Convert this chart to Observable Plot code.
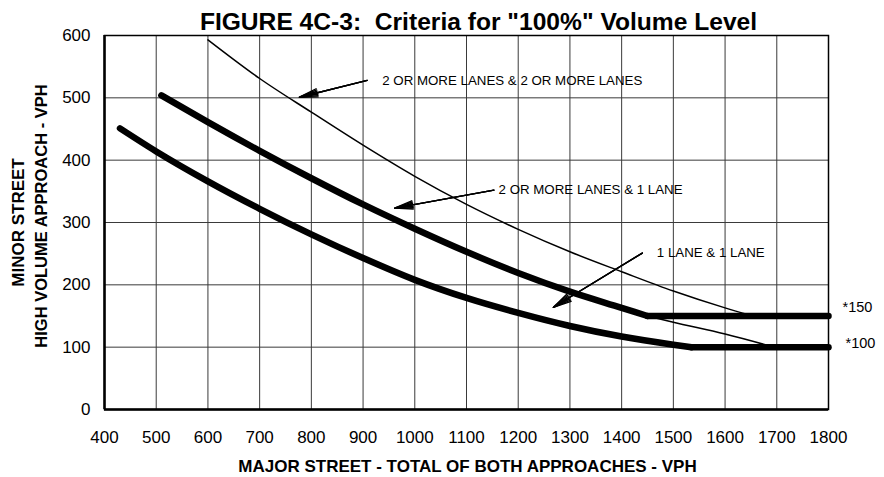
<!DOCTYPE html>
<html>
<head>
<meta charset="utf-8">
<script src="https://cdn.jsdelivr.net/npm/d3@7"></script>
<script src="https://cdn.jsdelivr.net/npm/@observablehq/plot@0.6"></script>
<style>
  html, body { margin: 0; padding: 0; background: #fff; }
</style>
</head>
<body>
<div id="chart"></div>
<script>
// ---- Data ----
const xTicks = [400, 500, 600, 700, 800, 900, 1000, 1100, 1200, 1300, 1400, 1500, 1600, 1700, 1800];
const yTicks = [0, 100, 200, 300, 400, 500, 600];

const title = "FIGURE 4C-3:  Criteria for \"100%\" Volume Level";
const xLabel = "MAJOR STREET - TOTAL OF BOTH APPROACHES - VPH";
const yLabel1 = "MINOR STREET";
const yLabel2 = "HIGH VOLUME APPROACH - VPH";

// 1 LANE & 1 LANE (thick)
const oneOneX = [430, 500, 600, 700, 800, 900, 1000, 1100, 1200, 1300, 1400, 1500, 1535];
const oneOneY = [451, 414, 366, 322, 281, 243, 208, 179, 155, 134, 117, 104, 100];
// floor at 100
const floor100X = [1535, 1800];
const floor100Y = [100, 100];

// 2 OR MORE LANES & 1 LANE (thick)
const twoOneX = [510, 600, 700, 800, 900, 1000, 1100, 1200, 1300, 1400, 1450];
const twoOneY = [504, 461, 415, 371, 329, 290, 253, 219, 189, 163, 150];
// floor at 150
const floor150X = [1450, 1800];
const floor150Y = [150, 150];
// thin continuation of the 2+ & 1 curve down to 100
const twoOneExtX = [1450, 1500, 1600, 1695];
const twoOneExtY = [150, 140, 121, 100];

// 2 OR MORE LANES & 2 OR MORE LANES (thin)
const twoTwoX = [600, 700, 800, 900, 1000, 1100, 1200, 1300, 1400, 1500, 1600, 1650];
const twoTwoY = [593, 531, 477, 424, 374, 329, 289, 253, 221, 190, 163, 151];

// annotations
const noteLabels = ["2 OR MORE LANES & 2 OR MORE LANES", "2 OR MORE LANES & 1 LANE", "1 LANE & 1 LANE"];
const noteX = [937, 1162, 1468];
const noteY = [528, 352, 251];
const arrowFromX = [908, 1153, 1440];
const arrowFromY = [528, 352, 251];
const arrowToX = [777, 961, 1268];
const arrowToY = [501, 323, 164];

const starLabels = ["*150", "*100"];
const starY = [150, 100];

// ---- Build tables ----
const zip = (xs, ys) => xs.map((x, i) => ({x, y: ys[i]}));
const notes = noteLabels.map((t, i) => ({t, x: noteX[i], y: noteY[i]}));
const arrows = arrowFromX.map((x1, i) => ({x1, y1: arrowFromY[i], x2: arrowToX[i], y2: arrowToY[i]}));

const font = "'Liberation Sans', Arial, Helvetica, sans-serif";
const arrowOpts = (angle) => ({x1: "x1", y1: "y1", x2: "x2", y2: "y2", stroke: "#000", strokeWidth: 1.4, headLength: 20, headAngle: angle});

const chart = Plot.plot({
  width: 884,
  height: 477,
  marginLeft: 104,
  marginRight: 56,
  marginTop: 35,
  marginBottom: 68,
  style: {fontFamily: font, background: "#fff", color: "#000"},
  x: {domain: [400, 1800]},
  y: {domain: [0, 600]},
  marks: [
    Plot.gridX(xTicks, {stroke: "#3a3a3a", strokeOpacity: 1, strokeWidth: 1}),
    Plot.gridY(yTicks, {stroke: "#3a3a3a", strokeOpacity: 1, strokeWidth: 1}),
    Plot.frame({stroke: "#000", strokeWidth: 1.5}),
    Plot.ruleX([400], {stroke: "#000", strokeWidth: 2.5}),
    Plot.ruleY([0], {stroke: "#000", strokeWidth: 2.5}),
    Plot.axisX(xTicks, {tickSize: 0, tickPadding: 21, fontSize: 17, label: null, tickFormat: d => String(d)}),
    Plot.axisY(yTicks, {tickSize: 0, tickPadding: 14, fontSize: 17, label: null, tickFormat: d => String(d)}),

    // thin curves
    Plot.line(zip(twoTwoX, twoTwoY), {x: "x", y: "y", stroke: "#000", strokeWidth: 1.5, curve: "monotone-x"}),
    Plot.line(zip(twoOneExtX, twoOneExtY), {x: "x", y: "y", stroke: "#000", strokeWidth: 1.5, curve: "monotone-x"}),

    // thick curves
    Plot.line(zip(oneOneX, oneOneY), {x: "x", y: "y", stroke: "#000", strokeWidth: 6.5, curve: "monotone-x"}),
    Plot.line(zip(floor100X, floor100Y), {x: "x", y: "y", stroke: "#000", strokeWidth: 6.5}),
    Plot.line(zip(twoOneX, twoOneY), {x: "x", y: "y", stroke: "#000", strokeWidth: 6.5, curve: "monotone-x"}),
    Plot.line(zip(floor150X, floor150Y), {x: "x", y: "y", stroke: "#000", strokeWidth: 6.5}),

    // arrows (stacked heads give a filled look) + notes
    Plot.arrow(arrows, arrowOpts(26)),
    Plot.arrow(arrows, arrowOpts(18)),
    Plot.arrow(arrows, arrowOpts(10)),
    Plot.text(notes, {x: "x", y: "y", text: "t", textAnchor: "start", fontSize: 13.3, fill: "#000"}),

    // end labels
    Plot.text([starLabels[0]], {x: 1800, y: starY[0], text: d => d, textAnchor: "start", dx: 14, dy: -9, fontSize: 14.5}),
    Plot.text([starLabels[1]], {x: 1800, y: starY[1], text: d => d, textAnchor: "start", dx: 17, dy: -4, fontSize: 14.5}),

    // titles
    Plot.text([title], {frameAnchor: "top", textAnchor: "middle", lineAnchor: "middle", text: d => d, dy: -13.5, dx: 12, fontSize: 24.6, fontWeight: "bold"}),
    Plot.text([xLabel], {frameAnchor: "bottom", textAnchor: "middle", lineAnchor: "middle", text: d => d, dy: 57, dx: 1, fontSize: 17, fontWeight: "bold"}),
    Plot.text([yLabel1], {frameAnchor: "left", textAnchor: "middle", lineAnchor: "middle", text: d => d, rotate: -90, dx: -85.5, dy: 0, fontSize: 17, fontWeight: "bold"}),
    Plot.text([yLabel2], {frameAnchor: "left", textAnchor: "middle", lineAnchor: "middle", text: d => d, rotate: -90, dx: -62.5, dy: -6.5, fontSize: 16.5, fontWeight: "bold"})
  ]
});

document.getElementById("chart").appendChild(chart);
</script>
</body>
</html>
